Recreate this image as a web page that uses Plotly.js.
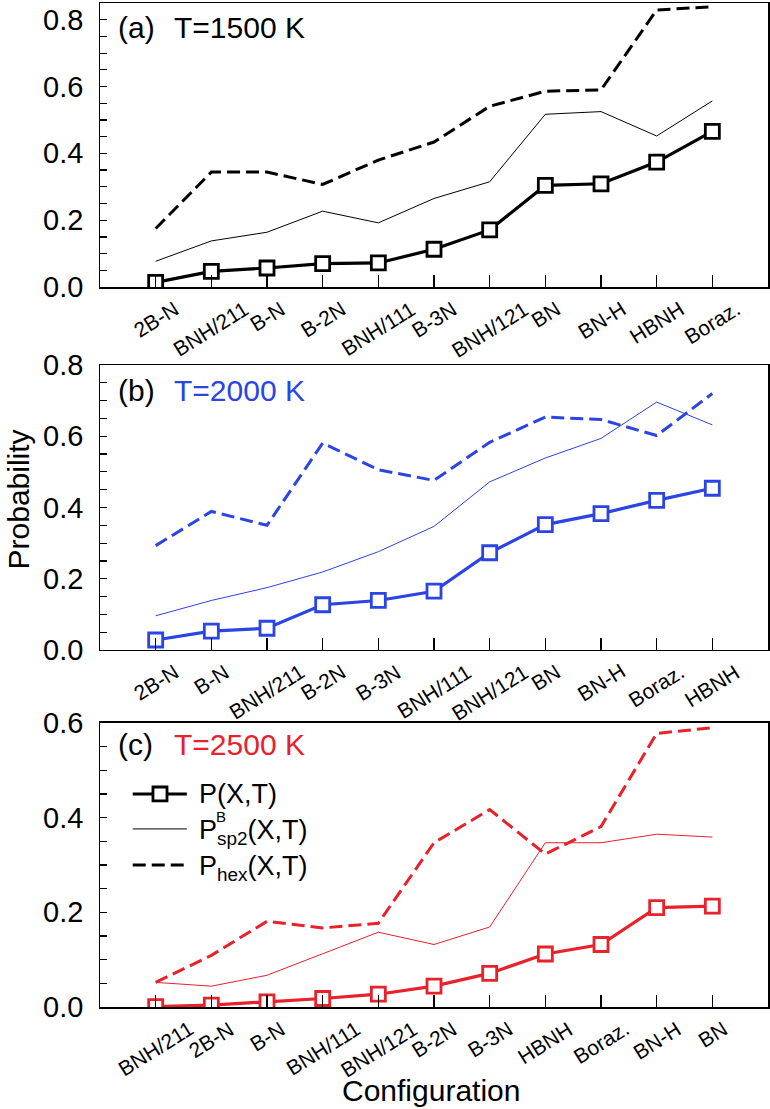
<!DOCTYPE html>
<html>
<head>
<meta charset="utf-8">
<script src="https://cdn.plot.ly/plotly-3.0.1.min.js"></script>
<style>html,body{margin:0;padding:0;background:#fff;}</style>
</head>
<body>
<div id="chart" style="width:770px;height:1109px;"></div>
<script>
// Panel (a) T=1500 K
var cats_a = ["2B-N","BNH/211","B-N","B-2N","BNH/111","B-3N","BNH/121","BN","BN-H","HBNH","Boraz."];
var P_a    = [0.014,0.047,0.057,0.070,0.072,0.113,0.171,0.304,0.309,0.374,0.466];
var Psp2_a = [0.077,0.138,0.164,0.227,0.192,0.265,0.315,0.517,0.525,0.452,0.557];
var Phex_a = [0.175,0.344,0.344,0.307,0.380,0.434,0.541,0.586,0.590,0.829,0.839];
var yticks_a = ["0.0","0.2","0.4","0.6","0.8"];

// Panel (b) T=2000 K
var cats_b = ["2B-N","B-N","BNH/211","B-2N","B-3N","BNH/111","BNH/121","BN","BN-H","Boraz.","HBNH"];
var P_b    = [0.028,0.053,0.061,0.127,0.139,0.165,0.273,0.352,0.383,0.420,0.454];
var Psp2_b = [0.096,0.139,0.175,0.219,0.276,0.347,0.472,0.539,0.594,0.696,0.632];
var Phex_b = [0.293,0.389,0.350,0.581,0.506,0.476,0.583,0.654,0.647,0.602,0.720];
var yticks_b = ["0.0","0.2","0.4","0.6","0.8"];

// Panel (c) T=2500 K
var cats_c = ["BNH/211","2B-N","B-N","BNH/111","BNH/121","B-2N","B-3N","HBNH","Boraz.","BN-H","BN"];
var P_c    = [0.001,0.004,0.011,0.018,0.027,0.044,0.071,0.112,0.132,0.210,0.213];
var Psp2_c = [0.052,0.044,0.067,0.113,0.158,0.132,0.169,0.347,0.347,0.365,0.359];
var Phex_c = [0.052,0.109,0.181,0.167,0.177,0.347,0.417,0.323,0.381,0.578,0.590];
var yticks_c = ["0.0","0.2","0.4","0.6"];

var panelLetters = ["(a)","(b)","(c)"];
var panelTemps = ["T=1500 K","T=2000 K","T=2500 K"];
var colors = ["#000000","#2b44e4","#e8212b"];
var legendNames = ["P(X,T)","P<sub>sp2</sub>(X,T)","P<sub>hex</sub>(X,T)"];

var FONT = "Liberation Sans, Arial, Helvetica, sans-serif";
var DASH = "13px,6px";

var panels = [
  {cats: cats_a, P: P_a, S: Psp2_a, H: Phex_a, yt: yticks_a, xa: "x",  ya: "y",  s: ""},
  {cats: cats_b, P: P_b, S: Psp2_b, H: Phex_b, yt: yticks_b, xa: "x2", ya: "y2", s: "2"},
  {cats: cats_c, P: P_c, S: Psp2_c, H: Phex_c, yt: yticks_c, xa: "x3", ya: "y3", s: "3"}
];

var traces = [];
panels.forEach(function(p, i){
  var c = colors[i];
  traces.push({x: p.cats, y: p.H, xaxis: p.xa, yaxis: p.ya, type: "scatter", mode: "lines",
    line: {color: c, width: 3, dash: DASH}, showlegend: false, hoverinfo: "skip"});
  traces.push({x: p.cats, y: p.S, xaxis: p.xa, yaxis: p.ya, type: "scatter", mode: "lines",
    line: {color: c, width: 1}, showlegend: false, hoverinfo: "skip"});
  traces.push({x: p.cats, y: p.P, xaxis: p.xa, yaxis: p.ya, type: "scatter", mode: "lines+markers",
    line: {color: c, width: 3.2}, marker: {symbol: "square", size: 14, color: "#ffffff", line: {color: c, width: 2.8}},
    showlegend: false, hoverinfo: "skip"});
});

function xaxisDef(cats, anchor){
  return {
    type: "category", categoryorder: "array", categoryarray: cats, anchor: anchor,
    range: [-1, 11], showgrid: false, zeroline: false, showticklabels: false,
    showline: true, linecolor: "#000", linewidth: 1.5, mirror: true,
    ticks: "inside", ticklen: 12, tickwidth: 1.2, tickcolor: "#000"
  };
}
function yaxisDef(dom, top, anchor){
  return {
    domain: dom, range: [0, top], anchor: anchor, showgrid: false, zeroline: false,
    showline: true, linecolor: "#000", linewidth: 1.5, mirror: true,
    ticks: "inside", ticklen: 7, tickwidth: 1.2, tickcolor: "#000",
    dtick: 0.2, tick0: 0, showticklabels: false,
    minor: {dtick: 0.05, tick0: 0, ticks: "inside", ticklen: 7, tickwidth: 1.2, tickcolor: "#000", showgrid: false}
  };
}

var annotations = [];
var titleY = [0.915, 0.912, 0.925];
panels.forEach(function(p, i){
  var s = p.s;
  annotations.push({xref: "x" + s + " domain", yref: "y" + s + " domain", x: 0.024, y: titleY[i],
    xanchor: "left", yanchor: "middle", showarrow: false, text: panelLetters[i],
    font: {family: FONT, size: 30, color: "#000"}});
  annotations.push({xref: "x" + s + " domain", yref: "y" + s + " domain", x: 0.108, y: titleY[i],
    xanchor: "left", yanchor: "middle", showarrow: false, text: panelTemps[i],
    font: {family: FONT, size: 30, color: colors[i]}});
  // rotated category labels, centred under each tick
  p.cats.forEach(function(c){
    annotations.push({xref: "x" + s, yref: "y" + s + " domain", x: c, y: 0, yshift: -7,
      xanchor: "center", yanchor: "top", textangle: -32, showarrow: false, text: c,
      font: {family: FONT, size: 21, color: "#000"}});
  });
  // y tick labels
  p.yt.forEach(function(t){
    annotations.push({xref: "x" + s + " domain", yref: "y" + s, x: 0, y: parseFloat(t), xshift: -15,
      xanchor: "right", yanchor: "middle", showarrow: false, text: t,
      font: {family: FONT, size: 29, color: "#000"}});
  });
});
annotations.push({xref: "paper", yref: "paper", x: -0.122, y: 0.505, xanchor: "center", yanchor: "middle",
  textangle: -90, showarrow: false, text: "Probability", font: {family: FONT, size: 30, color: "#000"}});
annotations.push({xref: "paper", yref: "paper", x: 0.4955, y: -0.083, xanchor: "center", yanchor: "middle",
  showarrow: false, text: "Configuration", font: {family: FONT, size: 30, color: "#000"}});

// legend (drawn in panel c, black)
var legY = [0.750, 0.627, 0.500];
legendNames.forEach(function(t, i){
  annotations.push({xref: "x3 domain", yref: "y3 domain", x: 0.145, y: legY[i] + (i ? -0.01 : 0),
    xanchor: "left", yanchor: "middle", showarrow: false, text: t,
    font: {family: FONT, size: 27, color: "#000"}});
});
annotations.push({xref: "x3 domain", yref: "y3 domain", x: 0.171, y: 0.672, xanchor: "left", yanchor: "middle",
  showarrow: false, text: "B", font: {family: FONT, size: 15, color: "#000"}});

var shapes = [
  {type: "line", xref: "x3 domain", yref: "y3 domain", x0: 0.049, x1: 0.130, y0: legY[0], y1: legY[0], line: {color: "#000", width: 3.2}},
  {type: "rect", xref: "x3 domain", yref: "y3 domain", x0: 0.0898 - 0.0105, x1: 0.0898 + 0.0105, y0: legY[0] - 0.0246, y1: legY[0] + 0.0246,
    fillcolor: "#fff", line: {color: "#000", width: 2.8}},
  {type: "line", xref: "x3 domain", yref: "y3 domain", x0: 0.049, x1: 0.130, y0: legY[1], y1: legY[1], line: {color: "#000", width: 1}},
  {type: "line", xref: "x3 domain", yref: "y3 domain", x0: 0.049, x1: 0.130, y0: legY[2], y1: legY[2], line: {color: "#000", width: 3, dash: DASH}}
];

var layout = {
  width: 770, height: 1109,
  margin: {l: 100, r: 2, t: 3, b: 102},
  paper_bgcolor: "#fff", plot_bgcolor: "#fff",
  showlegend: false,
  font: {family: FONT, color: "#000"},
  xaxis: xaxisDef(cats_a, "y"), xaxis2: xaxisDef(cats_b, "y2"), xaxis3: xaxisDef(cats_c, "y3"),
  yaxis: yaxisDef([0.7171, 1.0], 0.85, "x"),
  yaxis2: yaxisDef([0.3556, 0.6394], 0.8, "x2"),
  yaxis3: yaxisDef([0, 0.2829], 0.6, "x3"),
  annotations: annotations,
  shapes: shapes
};

Plotly.newPlot("chart", traces, layout, {staticPlot: true, displayModeBar: false});
</script>
</body>
</html>
